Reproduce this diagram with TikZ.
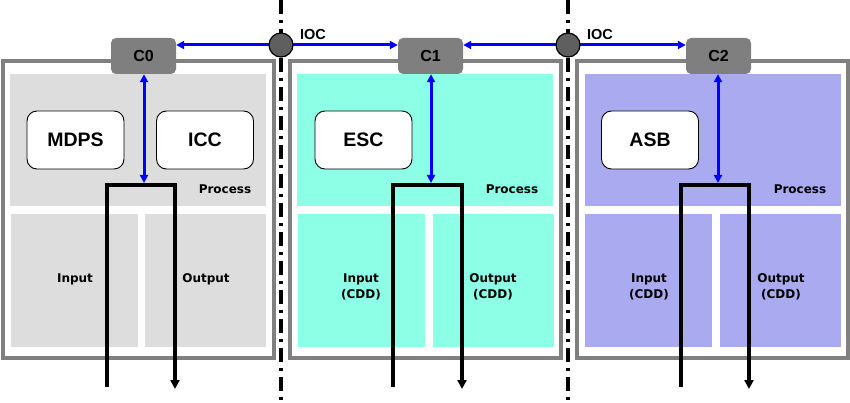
\documentclass[tikz,border=0pt]{standalone}
\usepackage{fontspec}
\setmainfont{Liberation Sans}
\newfontfamily\smallf{DejaVu Sans}
\usetikzlibrary{arrows.meta}
\definecolor{pgray}{HTML}{DDDDDD}
\definecolor{paqua}{HTML}{8CFFE6}
\definecolor{plav}{HTML}{AAAAF0}
\definecolor{bordergray}{HTML}{808080}
\definecolor{cgray}{HTML}{7F7F7F}
\definecolor{ocirc}{HTML}{5F5F5F}
\begin{document}
\begin{tikzpicture}[x=1pt,y=-1pt,
  outerbox/.style={draw=bordergray,line width=4pt,fill=white,inner sep=0pt,minimum width=271pt,minimum height=297pt},
  area/.style={draw=none,inner sep=0pt},
  cbox/.style={fill=cgray,draw=none,rounded corners=5pt,minimum width=65pt,minimum height=36pt,inner sep=0pt,font=\bfseries\fontsize{16}{18}\selectfont},
  swbox/.style={fill=white,draw=black,line width=0.9pt,rounded corners=10pt,minimum width=97pt,minimum height=58pt,inner sep=0pt,font=\bfseries\fontsize{19.5}{21}\selectfont},
  lbl/.style={font=\smallf\bfseries\fontsize{12}{16}\selectfont,align=center,inner sep=0pt},
  bluearr/.style={draw=blue,line width=3pt,{Triangle[length=8pt,width=8pt]}-{Triangle[length=8pt,width=8pt]}},
  blacku/.style={draw=black,line width=3.3pt,-{Triangle[length=9pt,width=9pt]}},
  sep/.style={draw=black,line width=3.5pt,dash pattern=on 14pt off 6pt on 3pt off 6pt},
  ioc/.style={circle,fill=ocirc,draw=black,line width=1.2pt,minimum size=24pt,inner sep=0pt},
  ioclbl/.style={font=\bfseries\fontsize{14.5}{16}\selectfont,inner sep=0pt}
]
\useasboundingbox (0,0) rectangle (850,403);
% separators
\coordinate (s1t) at (281,0); \coordinate (s1b) at (281,403);
\coordinate (s2t) at (568,0); \coordinate (s2b) at (568,403);
\draw[sep] (s1t) -- (s1b);
\draw[sep] (s2t) -- (s2b);

% panel 1
\node[outerbox] (o1) at (138,209.5) {};
\node[area,fill=pgray,minimum width=256pt,minimum height=132pt] (pr1) at (138,140) {};
\node[area,fill=pgray,minimum width=127pt,minimum height=133pt] (in1) at (74.5,280.5) {};
\node[area,fill=pgray,minimum width=121pt,minimum height=133pt] (out1) at (205.5,280.5) {};
\node[lbl] (pl1) at (225,189) {Process};
\node[lbl] (il1) at (75,279) {Input};
\node[lbl] (ol1) at (206,279) {Output};
\node[swbox] (mdps) at (75.5,140) {MDPS};
\node[swbox] (icc) at (205,140) {ICC};

% panel 2
\node[outerbox] (o2) at (425,209.5) {};
\node[area,fill=paqua,minimum width=256pt,minimum height=132pt] (pr2) at (425,140) {};
\node[area,fill=paqua,minimum width=127pt,minimum height=133pt] (in2) at (361,280.5) {};
\node[area,fill=paqua,minimum width=121pt,minimum height=133pt] (out2) at (493.5,280.5) {};
\node[lbl] (pl2) at (512,189) {Process};
\node[lbl] (il2) at (361,287) {Input\\(CDD)};
\node[lbl] (ol2) at (493,287) {Output\\(CDD)};
\node[swbox] (esc) at (363.5,140) {ESC};

% panel 3
\node[outerbox] (o3) at (712,209.5) {};
\node[area,fill=plav,minimum width=256pt,minimum height=132pt] (pr3) at (712.5,140) {};
\node[area,fill=plav,minimum width=127pt,minimum height=133pt] (in3) at (648.5,280.5) {};
\node[area,fill=plav,minimum width=121pt,minimum height=133pt] (out3) at (780.5,280.5) {};
\node[lbl] (pl3) at (800,189) {Process};
\node[lbl] (il3) at (649,287) {Input\\(CDD)};
\node[lbl] (ol3) at (781,287) {Output\\(CDD)};
\node[swbox] (asb) at (650,140) {ASB};

% U paths
\coordinate (u1a) at (107,387); \coordinate (u1b) at (107,185); \coordinate (u1c) at (175,185); \coordinate (u1d) at (175,389);
\coordinate (u2a) at (393,387); \coordinate (u2b) at (393,185); \coordinate (u2c) at (462,185); \coordinate (u2d) at (462,389);
\coordinate (u3a) at (681,387); \coordinate (u3b) at (681,185); \coordinate (u3c) at (749,185); \coordinate (u3d) at (749,389);
\draw[blacku] (u1a) -- (u1b) -- (u1c) -- (u1d);
\draw[blacku] (u2a) -- (u2b) -- (u2c) -- (u2d);
\draw[blacku] (u3a) -- (u3b) -- (u3c) -- (u3d);

% C boxes
\node[cbox] (c0) at (143.5,56) {C0};
\node[cbox] (c1) at (430.5,56) {C1};
\node[cbox] (c2) at (718.5,56) {C2};

% vertical blue arrows
\coordinate (v1) at (144,183);
\coordinate (v2) at (431,183);
\coordinate (v3) at (718,183);
\draw[bluearr] (c0.south -| v1) -- (v1);
\draw[bluearr] (c1.south -| v2) -- (v2);
\draw[bluearr] (c2.south -| v3) -- (v3);

% IOC links
\draw[bluearr] ([yshift=11pt]c0.east) -- ([yshift=11pt]c1.west);
\draw[bluearr] ([yshift=11pt]c1.east) -- ([yshift=11pt]c2.west);
\node[ioc] (ioc1) at (281,45) {};
\node[ioc] (ioc2) at (568,45) {};
\node[ioclbl] (iocl1) at (313,35) {IOC};
\node[ioclbl] (iocl2) at (600,35) {IOC};
\end{tikzpicture}
\end{document}
